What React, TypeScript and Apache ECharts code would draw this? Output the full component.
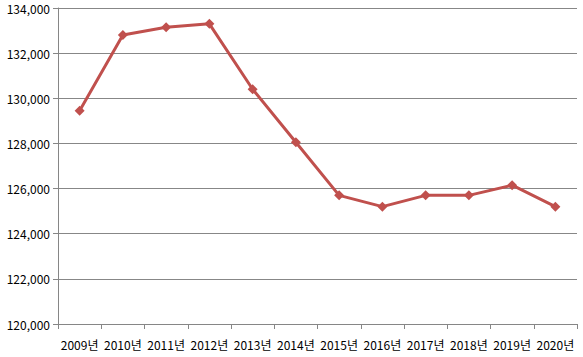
import React, { useEffect, useRef } from "react";
import * as echarts from "echarts";

const categories = ["2009년", "2010년", "2011년", "2012년", "2013년", "2014년", "2015년", "2016년", "2017년", "2018년", "2019년", "2020년"];
const values = [129450, 132800, 133150, 133300, 130400, 128050, 125700, 125200, 125700, 125700, 126150, 125200];
const yMin = 120000;
const yMax = 134000;
const yInterval = 2000;

export default function App() {
  const ref = useRef<HTMLDivElement>(null);
  useEffect(() => {
    if (!ref.current) return;
    const chart = echarts.init(ref.current, null, { renderer: "svg" });
    chart.setOption({
      animation: false,
      backgroundColor: "#ffffff",
      grid: { left: 58, right: 6, top: 8, bottom: 33, containLabel: false },
      xAxis: {
        type: "category",
        data: categories,
        boundaryGap: true,
        axisLine: { lineStyle: { color: "#868686", width: 1 } },
        axisTick: { show: true, length: 5, lineStyle: { color: "#868686" } },
        axisLabel: {
          color: "#000000",
          fontSize: 12,
          fontFamily: "Noto Sans CJK KR, DejaVu Sans, sans-serif",
          margin: 14,
          interval: 0,
        },
      },
      yAxis: {
        type: "value",
        min: yMin,
        max: yMax,
        interval: yInterval,
        axisLine: { show: true, lineStyle: { color: "#868686", width: 1 } },
        axisTick: { show: true, length: 5, lineStyle: { color: "#868686" } },
        splitLine: { show: true, lineStyle: { color: "#878787", width: 1 } },
        axisLabel: {
          color: "#000000",
          fontSize: 12,
          lineHeight: 12,
          fontFamily: "Noto Sans CJK KR, DejaVu Sans, sans-serif",
          margin: 8,
          formatter: (v: number) => v.toLocaleString("en-US"),
        },
      },
      series: [
        {
          type: "line",
          data: values,
          symbol: "diamond",
          symbolSize: 10,
          lineStyle: { color: "#c0504d", width: 3 },
          itemStyle: { color: "#c0504d" },
        },
      ],
    });
    return () => chart.dispose();
  }, []);
  return <div ref={ref} style={{ width: 583, height: 357, position: "absolute", left: 0, top: 0 }} />;
}
